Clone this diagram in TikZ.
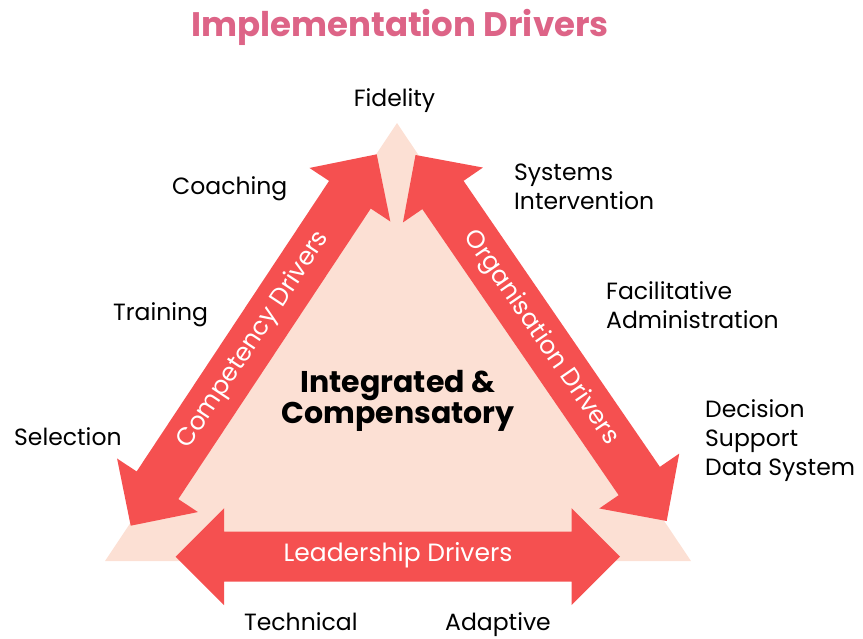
\documentclass[tikz,border=0pt]{standalone}
\usepackage{fontspec}
\setmainfont{Poppins}
\usetikzlibrary{calc}
\definecolor{peach}{HTML}{FCE0D4}
\definecolor{arrowred}{HTML}{F55050}
\definecolor{titlepink}{HTML}{DD6487}
\newcommand{\dblarrow}[2]{%
  \coordinate (h1) at ($(#1)!48.5pt!(#2)$);
  \coordinate (h2) at ($(#2)!48.5pt!(#1)$);
  \fill[arrowred] (#1) -- ($(h1)!48.5pt!90:(#2)$) -- ($(h1)!25pt!90:(#2)$)
    -- ($(h2)!25pt!-90:(#1)$) -- ($(h2)!48.5pt!-90:(#1)$) -- (#2)
    -- ($(h2)!48.5pt!90:(#1)$) -- ($(h2)!25pt!90:(#1)$)
    -- ($(h1)!25pt!-90:(#2)$) -- ($(h1)!48.5pt!-90:(#2)$) -- cycle;}
\begin{document}
\begin{tikzpicture}[x=1pt,y=-1pt,
  lab/.style={inner sep=0pt, font=\fontsize{23.5}{29}\selectfont, text=black},
  arrlab/.style={inner sep=0pt, font=\fontsize{25}{28}\selectfont, text=white}]
\useasboundingbox (0,0) rectangle (863,638);
% background triangle
\coordinate (apex) at (397,123);
\coordinate (bl) at (105,561);
\coordinate (br) at (691,561);
\fill[peach] (apex) -- (bl) -- (br) -- cycle;
% arrows
\coordinate (lA) at (130.7,525.7);
\coordinate (lB) at (376.7,154.3);
\coordinate (rA) at (415.5,155);
\coordinate (rB) at (666.7,521);
\coordinate (bA) at (175.7,556.7);
\coordinate (bB) at (620,556.7);
\dblarrow{lA}{lB}
\dblarrow{rA}{rB}
\dblarrow{bA}{bB}
% arrow labels
\node[arrlab, rotate=56.5] (comp) at (253.6,340) {Competency Drivers};
\node[arrlab, rotate=-55.5] (org) at (540.8,338) {Organisation Drivers};
\node[arrlab] (lead) at (398,555) {Leadership Drivers};
% title
\node[inner sep=0pt, anchor=base, font=\fontsize{34}{40}\selectfont\bfseries, text=titlepink] (title) at (400,36) {Implementation Drivers};
% centre
\node[inner sep=0pt, anchor=base, align=center, font=\fontsize{30}{31}\selectfont\bfseries] (centre) at (398,423.3) {Integrated \&\\Compensatory};
% outside labels
\node[lab, anchor=base] (fid) at (394.5,106.7) {Fidelity};
\node[lab, anchor=base west] (coach) at (172,194) {Coaching};
\node[lab, anchor=base west] (train) at (113,320) {Training};
\node[lab, anchor=base west] (sel) at (14,445) {Selection};
\node[lab, anchor=base west, align=left] (sys) at (514,209) {Systems\\Intervention};
\node[lab, anchor=base west, align=left] (fac) at (606,328) {Facilitative\\Administration};
\node[lab, anchor=base west, align=left] (dec) at (705,475) {Decision\\Support\\Data System};
\node[lab, anchor=base west] (tech) at (244,630) {Technical};
\node[lab, anchor=base west] (adap) at (445,630) {Adaptive};
\end{tikzpicture}
\end{document}
